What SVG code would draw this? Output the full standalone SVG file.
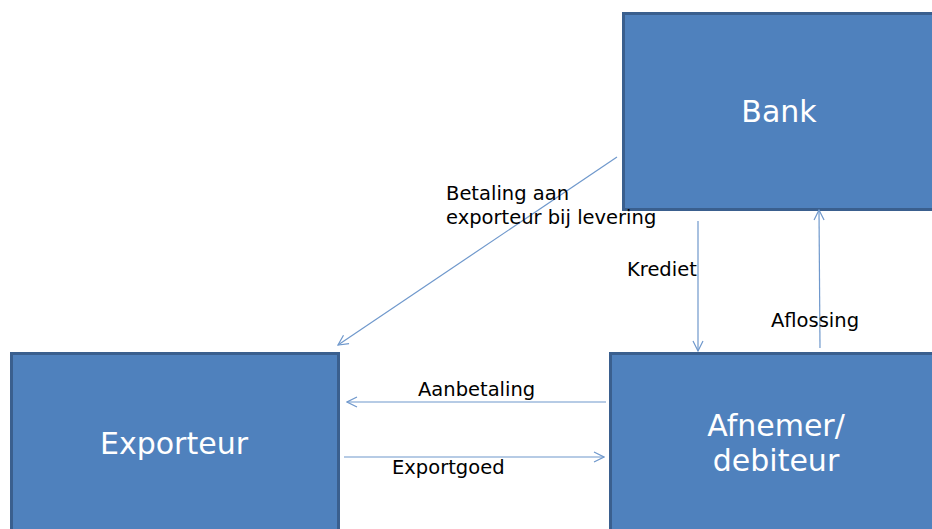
<svg xmlns="http://www.w3.org/2000/svg" width="932" height="529" viewBox="0 0 932 529">
<style>
.box{fill:#4F81BD;stroke:#3A5F8E;stroke-width:3}
.nt{fill:#fff;font-family:"DejaVu Sans",Verdana,sans-serif;font-size:30px;text-anchor:middle}
.lt{fill:#000;font-family:"DejaVu Sans",Verdana,sans-serif;font-size:19.5px}
.c{stroke:#6F98CC;stroke-width:1.2;fill:none;marker-end:url(#ah)}
</style>
<defs>
<marker id="ah" viewBox="0 0 12 12" refX="11" refY="6" markerWidth="12" markerHeight="12" markerUnits="userSpaceOnUse" orient="auto">
<path d="M1,1 L11,6 L1,11" fill="none" stroke="#6F98CC" stroke-width="1.2"/>
</marker>
</defs>
<rect width="932" height="529" fill="#fff"/>
<g id="bank"><rect class="box" x="623.5" y="13.5" width="320" height="196"/><text class="nt" x="779" y="122">Bank</text></g>
<g id="exporteur"><rect class="box" x="11.5" y="353.5" width="327" height="190"/><text class="nt" x="174" y="454">Exporteur</text></g>
<g id="afnemer"><rect class="box" x="610.5" y="353.5" width="330" height="190"/><text class="nt" x="776" y="436">Afnemer/</text><text class="nt" x="776" y="471">debiteur</text></g>
<g id="connectors">
<line class="c" x1="617" y1="157" x2="338" y2="345"/>
<line class="c" x1="698" y1="221" x2="698" y2="351"/>
<line class="c" x1="820" y1="348" x2="819" y2="210"/>
<line class="c" x1="606" y1="402" x2="347" y2="402"/>
<line class="c" x1="344" y1="457" x2="604" y2="457"/>
</g>
<g id="labels">
<text class="lt" x="446" y="200">Betaling aan</text>
<text class="lt" x="446" y="224">exporteur bij levering</text>
<text class="lt" x="627" y="276">Krediet</text>
<text class="lt" x="771" y="327">Aflossing</text>
<text class="lt" x="418" y="396">Aanbetaling</text>
<text class="lt" x="392" y="474">Exportgoed</text>
</g>
</svg>
